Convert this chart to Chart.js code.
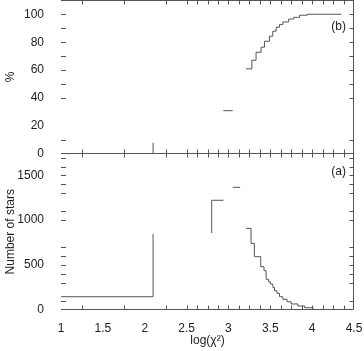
<!DOCTYPE html>
<html lang="en">
  <head>
    <meta charset="UTF-8" />
    <title>Distribution de log(chi2)</title>
    <style>
      body { margin: 0; background: #fff; }
      #wrap { position: relative; width: 364px; height: 351px; }
      canvas { position: absolute; left: 0; }
      #chartB { top: 0; }
      #chartA { top: 154px; }
    </style>
  </head>
  <body>
    <div id="wrap">
      <canvas id="chartB" width="364" height="170"></canvas>
      <canvas id="chartA" width="364" height="197"></canvas>
    </div>

    <script src="https://cdn.jsdelivr.net/npm/chart.js"></script>
    <script>
      // x axis (shared)
      const xLabels = [1, 1.5, 2, 2.5, 3, 3.5, 4, 4.5];
      const xMarks = [1.25, 1.75, 2.25, 2.5, 2.625, 2.75, 2.875, 3, 3.125, 3.25, 3.375, 3.5, 3.625, 3.75, 3.875, 4, 4.125, 4.25, 4.375];

      // panel (b) : cumulative percentage (null = break in the line)
      const pctTicks = [0, 20, 40, 60, 80, 100];
      const pctMarks = [10, 40, 50, 60, 70, 80, 90, 100];
      const cumX = [2.1, 2.1, 2.5, 2.94, 3.05, 3.1, 3.21, 3.28, 3.33, 3.39, 3.43, 3.49, 3.53, 3.57, 3.61, 3.65, 3.72, 3.78, 3.85, 3.94, 4.35];
      const cumPct = [0, 8, null, 31, 31, null, 60.9, 67.1, 72.8, 76.4, 80.7, 84.3, 87.9, 90.7, 92.6, 94.5, 96.6, 97.8, 99.3, 100, 100];

      // panel (a) : number of stars per bin (step starts)
      const countTicks = [0, 500, 1000, 1500];
      const countMarks = [100, 300, 400, 500, 600, 700, 1000, 1100, 1300, 1400, 1500, 1600, 1700];
      const binX = [1, 2.1, 2.5, 2.8, 2.8, 2.94, 3.0, 3.05, 3.14, 3.18, 3.21, 3.27, 3.31, 3.386, 3.425, 3.45, 3.48, 3.5, 3.53, 3.55, 3.58, 3.61, 3.65, 3.7, 3.75, 3.83, 3.91, 4.01];
      const binCount = [143, 845, null, 856, 1222, 1222, null, 1367, 1367, null, 908, 740, 591, 479, 434, 338, 311, 285, 248, 210, 181, 143, 114, 87, 62, 39, 20, 5];

      const font = { family: "'Liberation Sans', Arial, sans-serif", size: 12 };
      const ink = "#222";
      const lineCol = "#555";

      // frame lines + inward tick marks, drawn from the chart's own scales
      const framePlugin = {
        id: "frame",
        afterDraw(chart, args, o) {
          const { ctx, chartArea: a, scales } = chart;
          const x = scales.x, y = scales.y;
          ctx.save();
          ctx.strokeStyle = lineCol;
          ctx.lineWidth = 1;
          ctx.beginPath();
          const top = Math.round(a.top) + 0.5;
          const bot = Math.round(a.bottom) - 0.5;
          const right = Math.round(a.right) - 0.5;
          if (o.topLine) { ctx.moveTo(a.left, top); ctx.lineTo(right, top); }
          ctx.moveTo(a.left, bot); ctx.lineTo(right, bot);
          ctx.moveTo(right, a.top); ctx.lineTo(right, a.bottom);
          xMarks.forEach(v => {
            const px = Math.round(x.getPixelForValue(v)) + 0.5;
            if (o.topTicks) { ctx.moveTo(px, top - o.topTicks[0]); ctx.lineTo(px, top + o.topTicks[1]); }
            if (o.botTicks) { ctx.moveTo(px, bot - o.botTicks[0]); ctx.lineTo(px, bot + o.botTicks[1]); }
          });
          o.yMarks.forEach(v => {
            const py = Math.round(y.getPixelForValue(v)) + 0.5;
            ctx.moveTo(a.left, py); ctx.lineTo(a.left + 5, py);
            ctx.moveTo(right - 4, py); ctx.lineTo(right, py);
          });
          ctx.stroke();
          ctx.fillStyle = ink;
          ctx.font = "12px " + font.family;
          ctx.textAlign = "right";
          ctx.textBaseline = "middle";
          ctx.fillText(o.tag, a.right - 8, a.top + o.tagY);
          ctx.restore();
        }
      };

      function makePanel(id, xs, ys, opts) {
        return new Chart(document.getElementById(id), {
          type: "line",
          data: {
            datasets: [{
              data: xs.map((v, i) => ({ x: v, y: ys[i] })),
              borderColor: lineCol,
              borderWidth: 1,
              pointRadius: 0,
              stepped: true,
              spanGaps: false,
              fill: false
            }]
          },
          options: {
            responsive: false,
            animation: false,
            layout: { padding: opts.padding },
            plugins: {
              legend: { display: false },
              tooltip: { enabled: false },
              frame: opts.frame
            },
            scales: {
              x: {
                type: "linear",
                min: 1,
                max: 4.5,
                display: opts.showX,
                grid: { display: false },
                border: { display: false },
                afterBuildTicks: s => { s.ticks = xLabels.map(v => ({ value: v })); },
                afterFit: s => { s.height = opts.xHeight; s.paddingLeft = 0; s.paddingRight = 0; },
                ticks: { font, color: ink, padding: 4, maxRotation: 0, callback: v => String(v) },
                title: { display: opts.showX, text: "log(\u03c7\u00b2)", font, color: ink, padding: { top: 0, bottom: 3 } }
              },
              y: {
                min: 0,
                max: opts.yMax,
                grid: { display: false },
                border: { display: false },
                afterBuildTicks: s => { s.ticks = opts.yTicks.map(v => ({ value: v })); },
                afterFit: s => { s.width = 61; s.paddingTop = 0; s.paddingBottom = 0; },
                ticks: { font, color: ink, padding: 9, callback: v => String(v) },
                title: { display: true, text: opts.yTitle, font, color: ink, padding: { top: 3, bottom: 0 } }
              }
            }
          },
          plugins: [framePlugin]
        });
      }

      makePanel("chartB", cumX, cumPct, {
        padding: { top: 0, right: 10, bottom: 16, left: 0 },
        showX: false,
        xHeight: 0,
        yMax: 110.2,
        yTicks: pctTicks,
        yTitle: "%",
        frame: { topLine: true, topTicks: [0, 4], botTicks: [4, 4], yMarks: pctMarks, tag: "(b)", tagY: 27 }
      });

      makePanel("chartA", binX, binCount, {
        padding: { top: 0, right: 10, bottom: 0, left: 0 },
        showX: true,
        xHeight: 41.5,
        yMax: 1740,
        yTicks: countTicks,
        yTitle: "Number of stars",
        frame: { topLine: false, topTicks: null, botTicks: [4, 0], yMarks: countMarks, tag: "(a)", tagY: 18 }
      });
    </script>
  </body>
</html>
